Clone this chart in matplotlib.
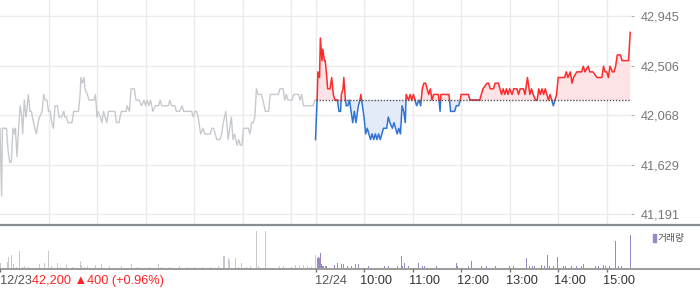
import numpy as np
import matplotlib
matplotlib.use("Agg")
import matplotlib.pyplot as plt
from matplotlib.lines import Line2D
from matplotlib.patches import Rectangle
import matplotlib.transforms as mtransforms

# ---------------- data ----------------
base_price = 42200
session_hours = 6.5

# previous day (12/23): minutes since 09:00, price
prev_minutes = [0, 2, 3, 8, 10, 12, 14, 16, 18, 19, 21, 23, 25, 27, 28, 30, 32, 33, 35, 37, 39, 40,
                43, 45, 47, 49, 52, 54, 56, 58, 60, 62, 64, 66, 68, 71, 73, 76, 79, 80, 82, 84, 89,
                91, 97, 99, 100, 102, 104, 105, 108, 110, 113, 116, 118, 120, 121, 124, 126, 128,
                130, 132, 134, 142, 144, 147, 150, 156, 157, 160, 162, 166, 168, 172, 175, 178,
                180, 182, 184, 186, 189, 192, 196, 198, 200, 208, 210, 212, 216, 218, 222, 225,
                227, 237, 239, 241, 243, 245, 247, 248, 251, 253, 260, 262, 264, 266, 268, 272,
                274, 276, 279, 281, 282, 284, 286, 288, 290, 293, 295, 297, 299, 301, 307, 309,
                311, 313, 315, 317, 319, 321, 323, 325, 328, 332, 334, 344, 346, 350, 352, 354,
                356, 361, 363, 369, 371, 373, 375, 381, 387, 389, 390]
prev_prices = [41950, 41350, 41950, 41950, 41750, 41650, 41650, 41950, 41900, 41950, 41700, 41950,
               42150, 42050, 41900, 42200, 42050, 42100, 42250, 42100, 42100, 42050, 41950, 41900,
               42000, 42050, 42100, 42250, 42200, 42200, 42100, 42100, 42000, 41950, 42150, 42150,
               42050, 42050, 42100, 42050, 42050, 42000, 42000, 42100, 42100, 42250, 42400, 42350,
               42400, 42300, 42250, 42200, 42200, 42200, 42250, 42050, 42100, 42050, 42000, 42100,
               42050, 42000, 42100, 42100, 42000, 42000, 42100, 42100, 42150, 42100, 42300, 42300,
               42200, 42200, 42150, 42200, 42150, 42200, 42150, 42200, 42100, 42150, 42150, 42200,
               42150, 42150, 42200, 42150, 42150, 42100, 42100, 42150, 42100, 42100, 42050, 42100,
               42100, 42050, 41950, 41900, 41950, 41900, 41900, 41950, 41950, 41900, 41850, 41850,
               41900, 42000, 42100, 41950, 41850, 41950, 42050, 41850, 41900, 41800, 41850, 41800,
               41800, 41950, 41950, 41900, 42000, 42000, 42050, 42300, 42250, 42250, 42250, 42200,
               42100, 42100, 42250, 42250, 42300, 42300, 42200, 42250, 42200, 42200, 42250, 42250,
               42200, 42250, 42150, 42150, 42150, 42200, 42200]

# current day (12/24): minutes since 09:00, price
today_minutes = [0, 2, 3, 5, 6, 8, 9, 11, 12, 14, 15, 18, 20, 22, 24, 27, 29, 31, 32, 34, 35, 37,
                 38, 40, 42, 44, 46, 48, 50, 53, 55, 56, 57, 60, 62, 64, 66, 68, 70, 72, 74, 76,
                 78, 80, 82, 84, 88, 90, 92, 95, 97, 99, 101, 103, 105, 107, 109, 111, 112, 115,
                 117, 119, 121, 123, 125, 128, 130, 132, 134, 136, 138, 140, 142, 144, 146, 152,
                 154, 155, 165, 167, 172, 174, 177, 179, 180, 189, 191, 203, 205, 207, 212, 214,
                 216, 220, 222, 226, 228, 230, 232, 234, 236, 238, 240, 243, 245, 249, 251, 253,
                 257, 259, 262, 265, 267, 269, 272, 274, 276, 278, 280, 282, 284, 286, 288, 290,
                 292, 294, 296, 298, 300, 308, 310, 312, 315, 317, 319, 323, 325, 329, 331, 333,
                 337, 339, 343, 348, 354, 356, 358, 360, 362, 364, 367, 369, 371, 373, 375, 377,
                 379, 387, 389]
today_prices = [41850, 42200, 42450, 42400, 42750, 42550, 42650, 42550, 42550, 42400, 42300, 42300,
                42400, 42250, 42200, 42200, 42100, 42100, 42250, 42300, 42400, 42200, 42150, 42150,
                42200, 42100, 42000, 42100, 42000, 42150, 42200, 42250, 42200, 42050, 41900, 41950,
                41900, 41850, 41900, 41850, 41900, 41850, 41900, 41850, 41900, 41950, 41950, 42050,
                42000, 41950, 42000, 41950, 41900, 41950, 41900, 42150, 42100, 42000, 42250, 42200,
                42250, 42200, 42250, 42200, 42150, 42200, 42150, 42300, 42350, 42350, 42300, 42250,
                42300, 42200, 42250, 42250, 42100, 42250, 42250, 42100, 42100, 42150, 42150, 42200,
                42250, 42250, 42200, 42200, 42250, 42300, 42350, 42350, 42300, 42300, 42350, 42350,
                42300, 42250, 42300, 42250, 42300, 42250, 42300, 42250, 42300, 42300, 42250, 42300,
                42300, 42250, 42400, 42250, 42300, 42250, 42200, 42200, 42300, 42250, 42300, 42250,
                42300, 42250, 42200, 42250, 42200, 42150, 42200, 42250, 42400, 42400, 42450, 42400,
                42450, 42350, 42400, 42450, 42450, 42450, 42500, 42450, 42500, 42450, 42450, 42400,
                42400, 42500, 42450, 42450, 42400, 42500, 42450, 42450, 42500, 42600, 42600, 42600,
                42550, 42550, 42800]

# volumes (shares): minutes since 09:00
prev_vol_minutes = [1, 9, 10, 14, 17, 20, 24, 28, 30, 35, 42, 49, 55, 60, 64, 68, 71, 75, 82, 90,
                    99, 101, 105, 108, 118, 126, 135, 150, 162, 163, 170, 178, 185, 196, 200, 210,
                    222, 232, 240, 246, 250, 260, 270, 276, 277, 282, 284, 288, 291, 295, 299, 305,
                    310, 317, 320, 328, 335, 345, 350, 360, 365, 370, 375, 380, 385, 390]
prev_vols = [500, 600, 1100, 1300, 400, 150, 1700, 150, 200, 150, 150, 400, 500, 1700, 200, 500, 500,
             150, 300, 150, 700, 300, 150, 200, 300, 400, 200, 200, 1100, 400, 150, 200, 150, 400,
             150, 150, 200, 150, 150, 1700, 150, 150, 200, 1200, 1200, 1000, 800, 2400, 1000, 150,
             500, 150, 200, 3700, 200, 3700, 150, 200, 200, 150, 300, 200, 300, 200, 150, 1300]
today_vol_minutes = [3, 4, 5, 6, 7, 9, 10, 12, 14, 23, 27, 29, 32, 35, 40, 44, 49, 53, 55, 60, 66,
                     85, 90, 97, 101, 106, 107, 110, 115, 127, 132, 135, 150, 170, 174, 175, 189,
                     193, 205, 207, 211, 223, 240, 245, 261, 264, 268, 271, 279, 283, 287, 289, 294,
                     299, 301, 307, 309, 317, 323, 327, 329, 331, 346, 350, 356, 358, 363, 371, 374,
                     378, 389]
today_vols = [1000, 1100, 1000, 1500, 400, 200, 200, 200, 200, 300, 500, 300, 400, 400, 200, 200,
              400, 400, 300, 300, 200, 200, 200, 200, 200, 1200, 200, 500, 200, 500, 200, 200, 200,
              300, 500, 200, 200, 700, 200, 400, 200, 200, 200, 200, 1000, 200, 200, 200, 300, 200,
              1300, 200, 200, 1100, 200, 200, 200, 200, 200, 200, 200, 400, 200, 200, 300, 200, 200,
              2700, 200, 200, 3300]

y_ticks = [41191, 41629, 42068, 42506, 42945]
day_labels = ["12/23", "12/24"]
hour_labels = ["10:00", "11:00", "12:00", "13:00", "14:00", "15:00"]
price_text = "42,200 \u25b2400 (+0.96%)"
volume_label = "거래량"

# ---------------- styling ----------------
W, H, DPI = 700, 289, 100
RED, BLUE, GREY = "#ff2b2b", "#2f74d4", "#c6cace"
RED_FILL, BLUE_FILL = "#fde3e6", "#e3ebf8"
PURPLE = "#9a86c8"
GRID = "#ebebeb"
FONT = ["Liberation Sans", "DejaVu Sans"]

plt.rcParams["font.family"] = FONT

fig = plt.figure(figsize=(W / DPI, H / DPI), dpi=DPI)
fig.patch.set_facecolor("white")

plot_w = 631 / W
ax = fig.add_axes([0, 64 / H, plot_w, 225 / H])
axv = fig.add_axes([0, 21 / H, plot_w, 42 / H])

# ---------------- price panel ----------------
ax.set_xlim(0, 2 * session_hours)
ax.set_ylim(41093, 43087)
for s in ax.spines.values():
    s.set_visible(False)

grid_x = [h for h in range(1, 7)] + [session_hours + h for h in range(0, 7)]
for gx in grid_x:
    ax.axvline(gx, color=GRID, lw=1, zorder=0)
for gy in y_ticks:
    ax.axhline(gy, color=GRID, lw=1, zorder=0)

ax.set_xticks([])
ax.yaxis.tick_right()
ax.set_yticks(y_ticks)
ax.set_yticklabels([f"{v:,}" for v in y_ticks])
ax.tick_params(axis="y", length=2, color="#b0b0b0", labelcolor="#777777",
               labelsize=9.2, pad=5)

px = np.array(prev_minutes) / 60.0
ax.plot(px, prev_prices, color=GREY, lw=1, zorder=2)

# today, split at base price
tx = np.array(today_minutes) / 60.0 + session_hours
tp = np.array(today_prices, dtype=float)
xs, ps = [tx[0]], [tp[0]]
for i in range(1, len(tx)):
    p0, p1 = tp[i - 1], tp[i]
    if (p0 - base_price) * (p1 - base_price) < 0:
        f = (base_price - p0) / (p1 - p0)
        xs.append(tx[i - 1] + f * (tx[i] - tx[i - 1]))
        ps.append(base_price)
    xs.append(tx[i])
    ps.append(p1)
xs, ps = np.array(xs), np.array(ps)

ax.fill_between(xs, ps, base_price, where=ps >= base_price, interpolate=True,
                color=RED_FILL, lw=0, zorder=1)
ax.fill_between(xs, ps, base_price, where=ps <= base_price, interpolate=True,
                color=BLUE_FILL, lw=0, zorder=1)
ax.plot(xs, np.ma.masked_where(ps > base_price, ps), color=BLUE, lw=1.1, zorder=3)
ax.plot(xs, np.ma.masked_where(ps < base_price, ps), color=RED, lw=1.1, zorder=4)
ax.plot([session_hours, 2 * session_hours], [base_price, base_price], color="#555555",
        lw=1, linestyle=(0, (1, 1.2)), zorder=5)

# ---------------- volume panel ----------------
axv.set_xlim(0, 2 * session_hours)
axv.set_ylim(0, 4200)
for s in axv.spines.values():
    s.set_visible(False)
axv.set_yticks([])
bw = 1.1 / 60
axv.bar(np.array(prev_vol_minutes) / 60.0, prev_vols, width=bw, color=GREY, lw=0)
axv.bar(np.array(today_vol_minutes) / 60.0 + session_hours, today_vols, width=bw,
        color=PURPLE, lw=0)
vticks = [0, session_hours] + [session_hours + h for h in range(1, 7)]
axv.set_xticks(vticks)
axv.set_xticklabels([])
axv.tick_params(axis="x", direction="out", length=3, color="#777777", width=1)

# full-width separator lines
fig.add_artist(Line2D([0, 1], [64 / H, 64 / H], color="#868c92", lw=1.6,
                      transform=fig.transFigure))
fig.add_artist(Line2D([0, 1], [20.5 / H, 20.5 / H], color="#8a8a8a", lw=1.2,
                      transform=fig.transFigure))

# x labels
ylab = -13 / 42
trans = axv.get_xaxis_transform()
off = mtransforms.ScaledTranslation(-4 / DPI, 0, fig.dpi_scale_trans)
axv.text(0, ylab, day_labels[0], transform=trans, ha="left", va="center",
         fontsize=9.2, color="#555555")
axv.text(session_hours, ylab, day_labels[1], transform=trans, ha="left", va="center",
         fontsize=9.2, color="#555555")
for i, lab in enumerate(hour_labels):
    axv.text(session_hours + i + 1, ylab, lab, transform=trans + off, ha="left",
             va="center", fontsize=9.2, color="#333333")
fig.text(32 / W, (H - 281) / H, price_text, ha="left", va="center", fontsize=9.2,
         color="#ff2222")

# volume legend
fig.add_artist(Rectangle((653 / W, (H - 242) / H), 3 / W, 8 / H, color=PURPLE,
                         transform=fig.transFigure))
fig.text(658 / W, (H - 238) / H, volume_label, ha="left", va="center", fontsize=7,
         color="#555555", family=["Noto Sans CJK KR", "DejaVu Sans"])

fig.savefig("out.png", dpi=DPI)
